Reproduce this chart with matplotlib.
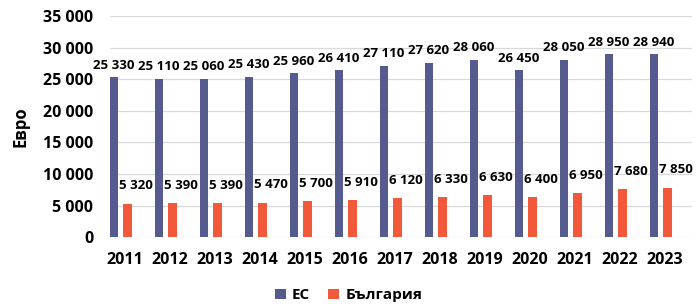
import matplotlib.pyplot as plt
import numpy as np

plt.rcParams['font.family'] = ['Open Sans', 'DejaVu Sans']
plt.rcParams['font.weight'] = 'bold'

years = ['2011', '2012', '2013', '2014', '2015', '2016', '2017',
         '2018', '2019', '2020', '2021', '2022', '2023']
eu = [25330, 25110, 25060, 25430, 25960, 26410, 27110,
      27620, 28060, 26450, 28050, 28950, 28940]
bg = [5320, 5390, 5390, 5470, 5700, 5910, 6120,
      6330, 6630, 6400, 6950, 7680, 7850]

eu_color = '#555A8F'
bg_color = '#F2583A'


def fmt(v):
    return f'{v:,}'.replace(',', ' ')


fig = plt.figure(figsize=(6.97, 3.04), dpi=100)
ax = fig.add_axes([0.158, 0.22, 0.835, 0.727])

x = np.arange(len(years))
w = 0.19
ax.bar(x - 0.245, eu, w, color=eu_color, label='ЕС', zorder=3)
ax.bar(x + 0.05, bg, w, color=bg_color, label='България', zorder=3)

for i in range(len(years)):
    ax.annotate(fmt(eu[i]), (x[i] - 0.245, eu[i]), xytext=(0, 4),
                textcoords='offset points', ha='center', va='bottom',
                fontsize=9.5, fontweight='bold', color='black')
    ax.annotate(fmt(bg[i]), (x[i] + 0.25, bg[i]), xytext=(0, 8),
                textcoords='offset points', ha='center', va='bottom',
                fontsize=9.5, fontweight='bold', color='black')

ax.set_ylim(0, 35000)
ax.set_xlim(-0.33, 12.6)
ax.set_yticks(range(0, 35001, 5000))
ax.set_yticklabels([fmt(v) for v in range(0, 35001, 5000)],
                   fontsize=11.5, fontweight='bold')
ax.set_xticks(x)
ax.set_xticklabels(years, fontsize=11.5, fontweight='bold')
ax.tick_params(axis='y', length=0, pad=12)
ax.tick_params(axis='x', length=0, pad=11)
ax.grid(axis='y', color='#D9D9D9', linewidth=0.9, zorder=0)
for s in ax.spines.values():
    s.set_visible(False)

ax.set_ylabel('Евро', fontsize=12, fontweight='bold', labelpad=10)

fig.legend(loc='lower center', bbox_to_anchor=(0.5, -0.04), ncol=2,
           frameon=False, handlelength=0.7, handleheight=0.7,
           columnspacing=1.2, handletextpad=0.4,
           prop={'weight': 'bold', 'size': 11})

fig.savefig('out.png', dpi=100)
